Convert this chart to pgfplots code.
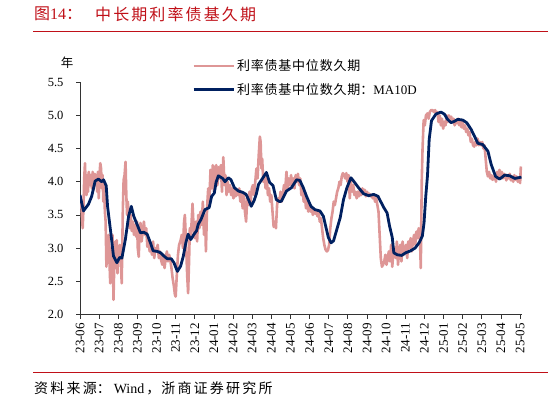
\documentclass[border=0pt]{standalone}
\usepackage{pgfplots}
\pgfplotsset{compat=1.18}
\usepackage{fontspec}
\setmainfont{Liberation Serif}
\newfontfamily\cjk{Noto Sans CJK SC}
\definecolor{pinkline}{RGB}{222,150,150}
\definecolor{navyline}{RGB}{0,32,96}
\definecolor{titlered}{RGB}{192,16,24}
\begin{document}
\begin{tikzpicture}
\useasboundingbox (0,0) rectangle (548pt,402pt);
\node[anchor=west,inner sep=0pt,text=titlered,font=\fontsize{16}{18}\selectfont] at (34pt,388pt) {{\cjk 图}14{\cjk ：}};
\node[anchor=west,inner sep=0pt,text=titlered,font=\fontsize{16}{18}\selectfont\cjk] at (95pt,388pt) {中\kern2.1pt 长\kern2.1pt 期\kern2.1pt 利\kern2.1pt 率\kern2.1pt 债\kern2.1pt 基\kern2.1pt 久\kern2.1pt 期};
\draw[titlered,line width=1pt] (33pt,370pt) -- (548pt,370pt);
\draw[titlered,line width=1pt] (33pt,30pt) -- (548pt,30pt);
\node[anchor=west,inner sep=0pt,font=\fontsize{14}{16}\selectfont] at (34pt,14pt) {{\cjk 资\kern2.2pt 料\kern2.2pt 来\kern2.2pt 源：}\kern3pt Wind\kern2pt{\cjk ，\kern1pt 浙\kern2.2pt 商\kern2.2pt 证\kern2.2pt 券\kern2.2pt 研\kern2.2pt 究\kern2.2pt 所}};
\begin{axis}[
  at={(80pt,87.5pt)}, anchor=south west,
  scale only axis, width=442pt, height=232.3pt,
  xmin=0, xmax=23.1, ymin=2, ymax=5.5,
  axis lines*=left,
  axis line style={line width=0.8pt, black!80},
  tick align=outside,
  major tick length=4pt,
  tick style={line width=0.8pt, black!80},
  xtick={0,...,23},
  xticklabels={23-06,23-07,23-08,23-09,23-10,23-11,23-12,24-01,24-02,24-03,24-04,24-05,24-06,24-07,24-08,24-09,24-10,24-11,24-12,25-01,25-02,25-03,25-04,25-05},
  xticklabel style={rotate=90, anchor=east, font=\fontsize{13}{15}\selectfont, xshift=-1pt},
  ytick={2,2.5,...,5.5},
  yticklabel style={xshift=-9pt, font=\fontsize{12.5}{14}\selectfont, /pgf/number format/.cd, fixed, fixed zerofill, precision=1, assume math mode=true},
  every axis y label/.style={at={(axis description cs:-0.029,1.083)}, anchor=center},
  ylabel={\cjk 年},
  ylabel style={font=\fontsize{12.5}{14}\selectfont},
  legend style={at={(axis description cs:0.2534,1.019)}, anchor=west, draw=none, fill=none, inner sep=0pt, row sep=7pt, font=\fontsize{13}{15}\selectfont, legend cell align=left},
  legend image code/.code={\draw[#1] (0pt,0pt) -- (40pt,0pt);},
]
\addplot[pinkline, line width=2.6pt, line join=round] coordinates {
(0.00,3.78)(0.06,3.70)(0.10,3.50)(0.14,3.30)(0.18,3.60)(0.22,4.05)(0.26,4.28)(0.30,3.90)(0.34,3.80)(0.38,4.10)
(0.42,3.85)(0.46,4.15)(0.50,4.05)(0.54,3.95)(0.58,4.10)(0.62,3.90)(0.66,4.15)(0.70,3.87)(0.74,4.00)(0.78,4.12)
(0.82,3.95)(0.86,4.05)(0.90,3.85)(0.94,4.15)(0.98,3.75)(1.02,4.10)(1.06,4.28)(1.10,4.20)(1.14,3.90)(1.18,4.10)
(1.22,3.70)(1.26,3.95)(1.30,3.55)(1.34,3.40)(1.38,2.72)(1.42,3.12)(1.46,2.90)(1.50,3.20)(1.54,2.80)(1.58,2.47)
(1.62,3.00)(1.66,2.70)(1.70,3.20)(1.75,2.22)(1.80,2.90)(1.84,3.10)(1.88,2.70)(1.92,3.12)(1.96,2.62)(2.00,3.00)
(2.04,2.80)(2.08,3.05)(2.12,2.90)(2.18,2.47)(2.24,3.60)(2.28,4.03)(2.33,4.10)(2.38,4.30)(2.42,3.80)(2.46,3.50)
(2.50,3.70)(2.56,3.40)(2.60,3.30)(2.65,3.50)(2.70,3.26)(2.76,3.40)(2.82,3.20)(2.88,3.35)(2.94,3.17)(2.98,3.40)
(3.02,3.00)(3.07,2.87)(3.12,3.30)(3.16,3.38)(3.22,3.10)(3.28,3.25)(3.34,3.40)(3.40,3.20)(3.46,3.30)(3.52,3.02)
(3.58,3.15)(3.64,2.95)(3.70,3.05)(3.76,2.90)(3.82,3.10)(3.88,2.85)(3.94,3.00)(4.00,2.95)(4.06,3.05)(4.12,2.85)
(4.18,2.95)(4.24,2.82)(4.30,2.75)(4.36,2.90)(4.42,2.70)(4.48,2.85)(4.54,2.95)(4.60,2.80)(4.66,2.90)(4.72,2.82)
(4.78,2.70)(4.84,2.55)(4.91,2.42)(4.96,2.30)(5.00,2.27)(5.06,2.60)(5.12,2.90)(5.18,3.05)(5.26,3.12)(5.32,3.20)
(5.38,3.00)(5.44,3.40)(5.48,3.50)(5.54,3.10)(5.60,2.60)(5.65,2.32)(5.70,2.80)(5.74,3.30)(5.80,3.20)(5.88,3.67)
(5.94,3.30)(6.00,3.15)(6.06,3.40)(6.12,3.10)(6.18,3.50)(6.24,3.30)(6.30,3.55)(6.36,3.35)(6.42,3.70)(6.48,3.20)
(6.54,3.50)(6.58,2.95)(6.64,3.60)(6.70,3.90)(6.76,3.70)(6.82,4.18)(6.88,3.90)(6.94,4.25)(7.00,3.85)(7.06,4.20)
(7.12,4.25)(7.18,3.95)(7.24,4.22)(7.30,4.05)(7.36,4.25)(7.42,3.85)(7.49,4.37)(7.55,3.95)(7.60,4.10)(7.66,3.80)
(7.72,4.00)(7.78,3.85)(7.84,3.95)(7.90,3.80)(7.96,3.90)(8.02,3.75)(8.08,3.90)(8.14,3.78)(8.20,3.85)(8.26,3.80)
(8.32,3.90)(8.38,3.70)(8.44,3.85)(8.50,3.60)(8.56,3.80)(8.62,3.55)(8.68,3.40)(8.74,3.75)(8.80,3.65)(8.86,3.85)
(8.92,3.70)(8.98,3.90)(9.04,3.95)(9.10,3.80)(9.16,4.00)(9.22,4.20)(9.28,4.05)(9.34,4.40)(9.40,4.68)(9.44,4.60)
(9.48,4.20)(9.52,4.35)(9.58,4.00)(9.64,4.10)(9.70,3.90)(9.76,4.05)(9.82,3.80)(9.88,3.90)(9.94,3.70)(10.00,3.80)
(10.06,3.55)(10.12,3.32)(10.18,3.40)(10.24,3.30)(10.30,3.65)(10.36,3.75)(10.42,3.70)(10.48,3.85)(10.54,3.70)(10.60,3.80)
(10.66,3.95)(10.72,3.85)(10.79,4.15)(10.85,3.90)(10.91,4.05)(10.97,3.95)(11.03,4.10)(11.09,3.95)(11.15,4.05)(11.21,3.90)
(11.27,4.10)(11.33,4.00)(11.39,4.12)(11.45,3.95)(11.51,4.05)(11.57,3.80)(11.63,3.90)(11.69,3.70)(11.75,3.80)(11.81,3.60)
(11.87,3.70)(11.93,3.55)(11.99,3.65)(12.05,3.55)(12.11,3.60)(12.17,3.50)(12.23,3.58)(12.29,3.52)(12.35,3.55)(12.41,3.48)
(12.47,3.55)(12.53,3.40)(12.59,3.45)(12.65,3.30)(12.71,3.15)(12.77,3.05)(12.83,2.98)(12.90,2.95)(12.96,2.97)(13.02,3.05)
(13.08,3.30)(13.14,3.45)(13.20,3.55)(13.26,3.70)(13.32,3.65)(13.38,3.75)(13.44,3.85)(13.50,3.90)(13.56,4.00)(13.62,3.95)
(13.68,4.08)(13.74,4.13)(13.80,4.10)(13.86,4.05)(13.92,4.13)(13.98,4.00)(14.04,4.10)(14.10,3.75)(14.16,4.00)(14.22,3.85)
(14.28,3.95)(14.34,3.80)(14.40,3.85)(14.46,3.75)(14.52,3.85)(14.58,3.78)(14.64,3.88)(14.70,3.80)(14.76,3.90)(14.82,3.82)
(14.88,3.88)(14.94,3.78)(15.00,3.85)(15.06,3.80)(15.12,3.82)(15.18,3.78)(15.24,3.80)(15.30,3.75)(15.36,3.80)(15.42,3.70)
(15.48,3.75)(15.54,3.65)(15.60,3.55)(15.66,3.20)(15.72,2.85)(15.78,2.72)(15.84,2.75)(15.90,2.80)(15.96,2.90)(16.02,2.75)
(16.08,2.85)(16.14,2.95)(16.20,2.80)(16.26,3.05)(16.32,2.72)(16.38,2.95)(16.44,3.00)(16.50,2.85)(16.56,3.10)(16.62,2.75)
(16.68,2.95)(16.74,3.05)(16.80,2.80)(16.86,3.10)(16.92,2.90)(16.98,3.00)(17.04,3.05)(17.10,2.85)(17.16,3.10)(17.22,3.00)
(17.28,3.15)(17.34,2.95)(17.40,3.10)(17.46,3.20)(17.52,3.05)(17.58,3.25)(17.64,3.15)(17.70,3.30)(17.76,3.20)(17.81,2.70)
(17.86,4.00)(17.90,4.48)(17.96,4.93)(18.02,4.85)(18.08,5.00)(18.16,5.03)(18.22,4.95)(18.28,5.05)(18.35,5.08)(18.42,5.08)
(18.50,5.05)(18.56,5.08)(18.62,5.02)(18.68,5.05)(18.74,4.90)(18.80,5.00)(18.86,4.85)(18.92,4.95)(18.98,4.80)(19.04,4.90)
(19.10,4.85)(19.16,5.00)(19.22,4.90)(19.28,5.00)(19.34,4.95)(19.40,4.98)(19.46,4.90)(19.52,4.95)(19.58,4.85)(19.64,4.92)
(19.70,4.88)(19.76,4.95)(19.82,4.85)(19.88,4.92)(19.94,4.82)(20.00,4.90)(20.06,4.80)(20.12,4.85)(20.18,4.75)(20.24,4.80)
(20.30,4.70)(20.36,4.75)(20.42,4.60)(20.48,4.65)(20.54,4.55)(20.60,4.53)(20.66,4.60)(20.72,4.55)(20.78,4.65)(20.84,4.55)
(20.90,4.60)(20.96,4.55)(21.02,4.60)(21.08,4.50)(21.14,4.55)(21.20,4.35)(21.26,4.15)(21.32,4.08)(21.38,4.15)(21.44,4.05)
(21.50,4.10)(21.56,4.03)(21.62,4.05)(21.68,4.10)(21.74,4.00)(21.80,4.15)(21.86,4.05)(21.92,4.18)(21.98,4.08)(22.04,4.15)
(22.10,4.05)(22.16,4.12)(22.22,4.10)(22.28,4.02)(22.34,4.10)(22.40,4.05)(22.46,4.12)(22.52,4.02)(22.58,4.08)(22.64,4.00)
(22.70,4.10)(22.76,4.03)(22.82,4.08)(22.88,4.00)(22.94,4.05)(23.00,3.98)(23.04,4.23)
};
\addlegendentry{\cjk 利\kern0.8pt 率\kern0.8pt 债\kern0.8pt 基\kern0.8pt 中\kern0.8pt 位\kern0.8pt 数\kern0.8pt 久\kern0.8pt 期}
\addplot[navyline, line width=2.8pt, line join=round] coordinates {
(0.00,3.80)(0.18,3.56)(0.44,3.66)(0.61,3.78)(0.79,4.01)(0.96,4.04)(1.14,4.00)(1.23,4.03)(1.37,3.94)(1.44,3.63)
(1.61,3.23)(1.75,2.88)(1.93,2.78)(2.07,2.86)(2.19,2.85)(2.37,3.13)(2.54,3.48)(2.68,3.63)(2.81,3.48)(2.98,3.36)
(3.16,3.23)(3.33,3.24)(3.51,3.21)(3.68,3.08)(3.82,2.96)(4.04,2.95)(4.21,2.93)(4.39,2.88)(4.56,2.84)(4.77,2.84)
(4.91,2.78)(5.09,2.65)(5.26,2.73)(5.40,2.88)(5.53,3.08)(5.65,3.21)(5.79,3.13)(5.96,3.21)(6.09,3.26)(6.18,3.36)
(6.32,3.43)(6.53,3.58)(6.75,3.61)(6.88,3.78)(7.02,3.83)(7.11,3.99)(7.23,4.09)(7.46,4.05)(7.58,4.00)(7.75,4.06)
(7.89,4.03)(8.07,3.91)(8.28,3.86)(8.51,3.84)(8.68,3.81)(8.81,3.73)(8.95,3.63)(9.09,3.71)(9.21,3.81)(9.33,3.96)
(9.56,4.06)(9.74,4.14)(9.91,3.99)(10.09,3.94)(10.26,3.73)(10.44,3.70)(10.53,3.71)(10.79,3.86)(11.05,3.91)(11.32,4.03)
(11.49,4.02)(11.67,3.91)(11.84,3.78)(12.07,3.63)(12.28,3.58)(12.54,3.56)(12.72,3.48)(12.84,3.33)(12.98,3.16)(13.12,3.08)
(13.25,3.11)(13.42,3.28)(13.60,3.46)(13.77,3.73)(13.95,3.91)(14.16,4.06)(14.30,4.01)(14.56,3.91)(14.82,3.82)(15.09,3.79)
(15.35,3.81)(15.58,3.78)(15.70,3.71)(15.88,3.61)(16.05,3.53)(16.18,3.33)(16.32,3.16)(16.40,2.93)(16.58,2.90)(16.81,2.89)
(17.02,2.93)(17.28,2.96)(17.51,3.00)(17.72,3.08)(17.89,3.18)(17.98,3.38)(18.07,3.78)(18.16,4.09)(18.25,4.64)(18.37,4.92)
(18.60,5.02)(18.86,5.05)(19.04,5.02)(19.21,4.94)(19.39,4.89)(19.56,4.91)(19.74,4.94)(20.00,4.93)(20.21,4.89)(20.44,4.79)
(20.61,4.69)(20.79,4.58)(21.05,4.56)(21.32,4.46)(21.49,4.26)(21.72,4.08)(21.93,4.04)(22.19,4.10)(22.46,4.09)(22.72,4.05)
(23.07,4.07)
};
\addlegendentry{{\cjk 利\kern0.8pt 率\kern0.8pt 债\kern0.8pt 基\kern0.8pt 中\kern0.8pt 位\kern0.8pt 数\kern0.8pt 久\kern0.8pt 期：}MA10D}
\end{axis}
\end{tikzpicture}
\end{document}
